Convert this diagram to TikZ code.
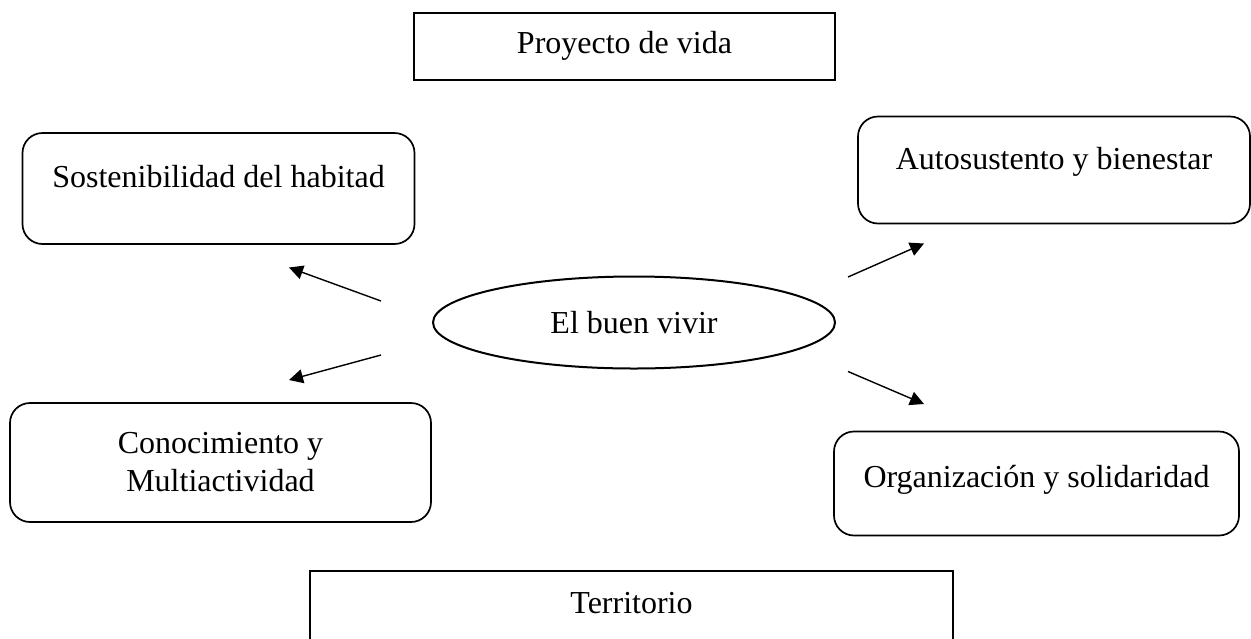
\documentclass[tikz,border=0pt]{standalone}
\usepackage{fontspec}
\setmainfont{Liberation Serif}
\usetikzlibrary{shapes.geometric,arrows.meta}
\begin{document}
\begin{tikzpicture}[x=0.5pt,y=-0.5pt,
    caja/.style={draw=black,line width=0.85pt,rounded corners=10pt,inner sep=0,font=\fontsize{16}{19}\selectfont,align=center},
    marco/.style={caja,sharp corners,line width=1pt},
    sube/.style={text height=11pt,text depth=#1},
    flecha/.style={line width=0.7pt,-{Triangle[length=7pt,width=7pt]}}]
  \useasboundingbox (0,0) rectangle (1251,638);
  \clip (0,0) rectangle (1251,638);
  \node [marco,minimum width=210.5pt,minimum height=33.5pt] (proyecto) at (624.5,46) {Proyecto de vida};
  \node [caja,sube=12pt,minimum width=196pt,minimum height=55.5pt] (habitad) at (218.5,188.5) {Sostenibilidad del habitad};
  \node [caja,sube=11.5pt,minimum width=196pt,minimum height=53.5pt] (bienestar) at (1054,170) {Autosustento y bienestar};
  \node [caja,minimum width=210.5pt,minimum height=59.5pt] (conocimiento) at (220.5,462.5) {Conocimiento y\\Multiactividad};
  \node [caja,sube=7.5pt,minimum width=202.5pt,minimum height=52pt] (organizacion) at (1036.5,483.5) {Organización y solidaridad};
  \node [marco,sube=19pt,minimum width=321.5pt,minimum height=50pt] (territorio) at (631.5,621) {Territorio};
  \node [ellipse,draw=black,line width=1pt,inner sep=0,minimum width=201pt,minimum height=46pt,font=\fontsize{16}{19}\selectfont] (buenvivir) at (634,322.5) {El buen vivir};
  \foreach \i/\xa/\ya/\xb/\yb in {1/381/301/289/267.5,2/381/355/289/380,3/848/277/924/243.5,4/848/371.5/924/404}{
    \coordinate (s\i) at (\xa,\ya);
    \coordinate (t\i) at (\xb,\yb);
    \draw [flecha] (s\i) -- (t\i);
  }
\end{tikzpicture}
\end{document}
